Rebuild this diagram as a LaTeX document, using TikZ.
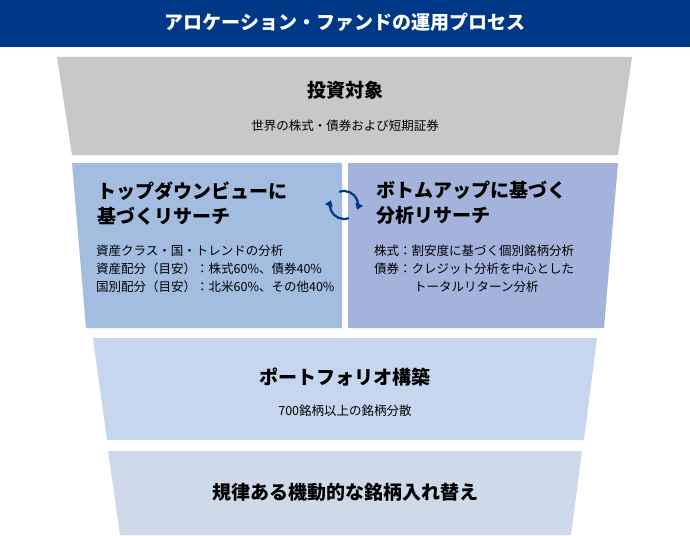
\documentclass[tikz,border=0pt]{standalone}
\usepackage{fontspec}
\setmainfont{Noto Sans CJK JP}
\usetikzlibrary{arrows.meta}
\definecolor{navy}{RGB}{0,56,136}
\definecolor{gband}{RGB}{200,200,200}
\definecolor{lband}{RGB}{163,189,225}
\definecolor{rband}{RGB}{164,179,219}
\definecolor{pband}{RGB}{197,214,238}
\definecolor{kband}{RGB}{206,217,234}
\begin{document}
\begin{tikzpicture}[x=1pt,y=-1pt,
  hd/.style={font=\fontsize{19}{23}\selectfont\bfseries, align=left, text=black},
  sm/.style={font=\fontsize{12.5}{18}\selectfont, align=left, text=black, inner sep=0},
  cyc/.style={line width=2.2pt, draw=navy, -{Triangle[length=6pt,width=8pt]}}]
\useasboundingbox (0,0) rectangle (690,535);
\fill[white] (0,0) rectangle (690,535);
\fill[navy] (0,0) rectangle (690,47);
\node[font=\fontsize{19}{23}\selectfont\bfseries, text=white] (title) at (345,22) {アロケーション・ファンドの運用プロセス};
\fill[gband] (57,57) -- (632,57) -- (618,155) -- (72,155) -- cycle;
\fill[lband] (72,163) -- (342,163) -- (342,328) -- (86,328) -- cycle;
\fill[rband] (348,163) -- (618,163) -- (604,328) -- (348,328) -- cycle;
\fill[pband] (93,338) -- (597,338) -- (584,440) -- (107,440) -- cycle;
\fill[kband] (108,451) -- (582,451) -- (571,535) -- (120,535) -- cycle;
\node[hd] (t1) at (345,90) {投資対象};
\node[sm] (s1) at (345,126) {世界の株式・債券および短期証券};
\node[hd, anchor=north west, font=\fontsize{19}{25}\selectfont\bfseries] (t2) at (94,178) {トップダウンビューに\\基づくリサーチ};
\node[sm, anchor=north west] (s2) at (96,245) {資産クラス・国・トレンドの分析\\資産配分（目安）：株式60\%、債券40\%\\国別配分（目安）：北米60\%、その他40\%};
\node[hd, anchor=north west, font=\fontsize{19}{25}\selectfont\bfseries] (t3) at (373,178) {ボトムアップに基づく\\分析リサーチ};
\node[sm, anchor=north west] (s3) at (374,245) {株式：割安度に基づく個別銘柄分析\\債券：クレジット分析を中心とした\\\hspace{3.2em}トータルリターン分析};
\node[hd] (t4) at (345,377) {ポートフォリオ構築};
\node[sm] (s4) at (345,411) {700銘柄以上の銘柄分散};
\node[hd] (t5) at (345,492) {規律ある機動的な銘柄入れ替え};
\coordinate (c) at (344,205);
\draw[cyc] ([shift={(70:14)}]c) arc[start angle=70,end angle=200,radius=14];
\draw[cyc] ([shift={(250:14)}]c) arc[start angle=250,end angle=380,radius=14];
\end{tikzpicture}
\end{document}
